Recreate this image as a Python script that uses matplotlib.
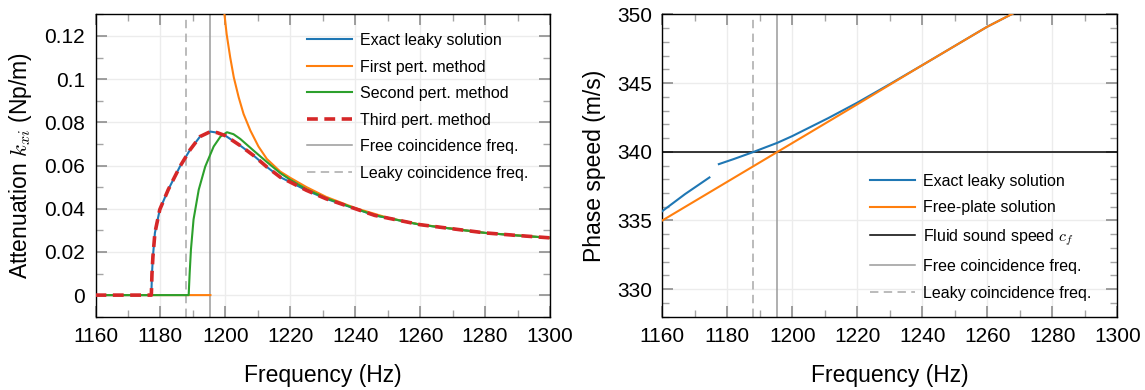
import numpy as np
import matplotlib
matplotlib.use("Agg")
import matplotlib.pyplot as plt
from matplotlib.ticker import MultipleLocator, FixedLocator, FixedFormatter

plt.rcParams['font.family'] = ['Liberation Sans', 'DejaVu Sans']
plt.rcParams['mathtext.fontset'] = 'cm'

# ---------------- data ----------------
nan = float('nan')

# Left panel: attenuation k_xi (Np/m) vs frequency (Hz)
exact_f = [1160, 1177.2, 1177.4, 1177.7, 1178.3, 1179.8, 1182.4, 1186.0, 1189.1, 1192.2,
           1195.4, 1197.5, 1200, 1204.6, 1208.7, 1212.8, 1216.9, 1220, 1225, 1231,
           1240, 1246, 1260, 1280, 1290, 1300]
exact_k = [0, 0, 0.010, 0.018, 0.0288, 0.0396, 0.0488, 0.0595, 0.0672, 0.0734,
           0.0757, 0.0752, 0.0738, 0.0692, 0.0646, 0.0593, 0.0546, 0.0523, 0.0485, 0.0446,
           0.0400, 0.0369, 0.0326, 0.0288, 0.0276, 0.0265]

first_f = [1160, 1195.4, nan, 1199.5, 1200.4, 1201.5, 1202.6, 1204.1, 1205.6, 1207.7,
           1210.2, 1212.8, 1216.9, 1220, 1225, 1231, 1240, 1250, 1260, 1280, 1300]
first_k = [0, 0, nan, 0.133, 0.1208, 0.110, 0.1008, 0.0916, 0.0839, 0.0762,
           0.0688, 0.0630, 0.0572, 0.0543, 0.0500, 0.0455, 0.0403, 0.0358, 0.0327, 0.0288, 0.0265]

second_f = [1160, 1188.7, 1189.0, 1189.4, 1190.2, 1191.8, 1193.8, 1196.4, 1198.5, 1200.5,
            1202.5, 1204.6, 1208.7, 1212.8, 1216.9, 1220, 1225, 1231, 1240, 1246,
            1260, 1280, 1290, 1300]
second_k = [0, 0, 0.010, 0.0211, 0.035, 0.0488, 0.0595, 0.0688, 0.0734, 0.0754,
            0.0745, 0.0723, 0.0669, 0.0616, 0.0565, 0.0534, 0.0490, 0.0449, 0.0401, 0.0370,
            0.0326, 0.0288, 0.0276, 0.0265]

third_f = [1160, 1177.2, 1177.4, 1177.7, 1178.3, 1179.8, 1182.4, 1186.0, 1189.1, 1192.2,
           1195.4, 1197.5, 1200, 1204.6, 1208.7, 1212.8, 1216.9, 1220, 1225, 1231,
           1240, 1246, 1260, 1280, 1290, 1300]
third_k = [0, 0, 0.010, 0.018, 0.0288, 0.0396, 0.0488, 0.0595, 0.0672, 0.0734,
           0.0757, 0.0752, 0.0738, 0.0692, 0.0646, 0.0593, 0.0546, 0.0523, 0.0485, 0.0446,
           0.0400, 0.0369, 0.0326, 0.0288, 0.0276, 0.0265]

# Right panel: phase speed (m/s) vs frequency (Hz)
leaky_f = [1160, 1167, 1174.5, nan, 1177.4, 1182, 1188, 1191.5, 1195.4, 1200, 1206, 1211,
           1220, 1230, 1240, 1250, 1260, 1268]
leaky_v = [335.68, 336.92, 338.13, nan, 339.10, 339.47, 339.98, 340.30, 340.65, 341.14, 341.85,
           342.44, 343.57, 344.92, 346.30, 347.70, 349.10, 350.07]

freeplate_f = [1160, 1195.5, 1220, 1239.3, 1259.8, 1268]
freeplate_v = [335.0, 340.0, 343.45, 346.2, 349.07, 350.07]

cf = 340.0                 # fluid sound speed (m/s)
free_coinc = 1195.4        # free coincidence frequency (Hz)
leaky_coinc = 1187.8       # leaky coincidence frequency (Hz)

x_ticks = [1160, 1180, 1200, 1220, 1240, 1260, 1280, 1300]
x_ticklabels = ['1160', '1180', '1200', '1220', '1240', '1260', '1280', '1300']
k_ticks = [0, 0.02, 0.04, 0.06, 0.08, 0.1, 0.12]
k_ticklabels = ['0', '0.02', '0.04', '0.06', '0.08', '0.1', '0.12']
v_ticks = [330, 335, 340, 345, 350]
v_ticklabels = ['330', '335', '340', '345', '350']

left_labels = ['Exact leaky solution', 'First pert. method', 'Second pert. method',
               'Third pert. method', 'Free coincidence freq.', 'Leaky coincidence freq.']
right_labels = ['Exact leaky solution', 'Free-plate solution', r'Fluid sound speed $c_f$',
                'Free coincidence freq.', 'Leaky coincidence freq.']

# ---------------- styling ----------------
BLUE, ORANGE, GREEN, RED = '#1f77b4', '#ff7f0e', '#2ca02c', '#d62728'
GRAY_SOLID, GRAY_DASH = '#9a9a9a', '#a8a8a8'
LW = 1.5

fig = plt.figure(figsize=(11.45, 3.9), dpi=100)
axL = fig.add_axes([95.5 / 1145, 1 - 316.7 / 390, 454.5 / 1145, 302.4 / 390])
axR = fig.add_axes([662.3 / 1145, 1 - 316.7 / 390, 455.0 / 1145, 302.4 / 390])


def style_axes(ax, yticks, ylabels, yminor):
    ax.set_xlim(1160, 1300)
    ax.xaxis.set_major_locator(FixedLocator(x_ticks))
    ax.xaxis.set_major_formatter(FixedFormatter(x_ticklabels))
    ax.xaxis.set_minor_locator(MultipleLocator(10))
    ax.yaxis.set_major_locator(FixedLocator(yticks))
    ax.yaxis.set_major_formatter(FixedFormatter(ylabels))
    ax.yaxis.set_minor_locator(MultipleLocator(yminor))
    ax.tick_params(which='both', direction='in', top=True, right=True,
                   labelsize=15, pad=7.5)
    ax.tick_params(which='major', length=8, width=1.1, color='#858585')
    ax.tick_params(which='minor', length=5, width=1.0, color='#a5a5a5')
    ax.grid(True, which='major', color='#ececec', lw=1.0)
    ax.set_axisbelow(True)
    for s in ax.spines.values():
        s.set_linewidth(1.0)
        s.set_color('black')
    ax.set_xlabel('Frequency (Hz)', fontsize=16.5, labelpad=13)


leg_kw = dict(loc='upper left', frameon=False, fontsize=11.5, handlelength=2.8,
              handletextpad=0.5, labelspacing=0.72, borderpad=0, borderaxespad=0)

# ---- left panel ----
style_axes(axL, k_ticks, k_ticklabels, 0.01)
axL.set_ylim(-0.01, 0.13)
axL.plot(exact_f, exact_k, color=BLUE, lw=LW, label=left_labels[0], zorder=3)
axL.plot(first_f, first_k, color=ORANGE, lw=LW, label=left_labels[1], zorder=3)
axL.plot(second_f, second_k, color=GREEN, lw=LW, label=left_labels[2], zorder=3)
axL.plot(third_f, third_k, color=RED, lw=2.6, ls=(0, (3.0, 1.8)), label=left_labels[3], zorder=4)
axL.axvline(free_coinc, color=GRAY_SOLID, lw=1.1, label=left_labels[4], zorder=2)
axL.axvline(leaky_coinc, color=GRAY_DASH, lw=1.1, ls=(0, (5.5, 3.5)), label=left_labels[5], zorder=2)
axL.set_ylabel(r'Attenuation $k_{xi}$ (Np/m)', fontsize=16.5, labelpad=7)
axL.legend(bbox_to_anchor=(0.465, 0.938), **leg_kw)

# ---- right panel ----
style_axes(axR, v_ticks, v_ticklabels, 1)
axR.set_ylim(328, 350)
axR.plot(leaky_f, leaky_v, color=BLUE, lw=LW, label=right_labels[0], zorder=3)
axR.plot(freeplate_f, freeplate_v, color=ORANGE, lw=LW, label=right_labels[1], zorder=3)
axR.axhline(cf, color='black', lw=1.1, label=right_labels[2], zorder=2)
axR.axvline(free_coinc, color=GRAY_SOLID, lw=1.1, label=right_labels[3], zorder=2)
axR.axvline(leaky_coinc, color=GRAY_DASH, lw=1.1, ls=(0, (5.5, 3.5)), label=right_labels[4], zorder=2)
axR.set_ylabel('Phase speed (m/s)', fontsize=16.5, labelpad=8)
axR.legend(bbox_to_anchor=(0.4565, 0.472), **leg_kw)

fig.savefig('out.png', dpi=100)
